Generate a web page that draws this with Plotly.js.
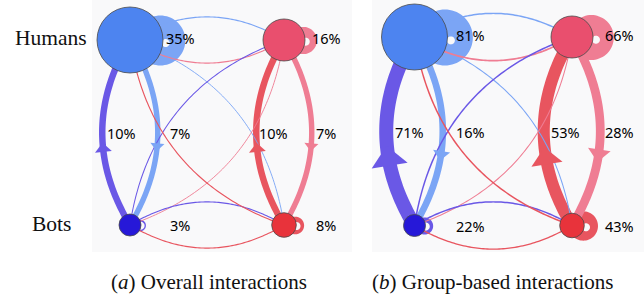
<!DOCTYPE html>
<html><head><meta charset="utf-8">
<script src="https://cdn.plot.ly/plotly-3.0.1.min.js"></script>
<style>html,body{margin:0;padding:0;background:#fff}#chart{width:644px;height:298px}</style>
</head><body><div id="chart"></div>
<script>
// ---------------- data ----------------
const nodeIds = ['HB', 'HR', 'BB', 'BR'];           // Humans-blue, Humans-red, Bots-blue, Bots-red
const rowLabels = ['Humans', 'Bots'];
const panelCaptions = ['(<i>a</i>) Overall interactions', '(<i>b</i>) Group-based interactions'];
const edgeFrom = ['HB', 'HB', 'HB', 'HR', 'HR', 'HR', 'BB', 'BB', 'BB', 'BR', 'BR', 'BR'];
const edgeTo   = ['HR', 'BB', 'BR', 'HB', 'BR', 'BB', 'HB', 'BR', 'HR', 'HR', 'BB', 'HB'];
const overallEdgeValues = [0.3, 7, 0.2, 0.3, 7, 0.2, 10, 0.3, 0.25, 10, 0.3, 0.3];
const groupEdgeValues   = [0.8, 16, 0.4, 1, 28, 0.4, 71, 0.8, 0.8, 53, 0.6, 0.8];
const overallLoopValues = [35, 16, 3, 8];
const groupLoopValues   = [81, 66, 22, 43];
const labeledEdges = ['BB>HB', 'HB>BB', 'BR>HR', 'HR>BR'];

// ---------------- style / layout ----------------
const nodeRadius = {HB: 33, HR: 21, BB: 11, BR: 12.3};
const nodeFill   = {HB: '#4d84f0', HR: '#e94f6e', BB: '#2618d8', BR: '#e8333b'};
const edgeColor  = {HB: '#7ba5f5', HR: '#ef7d93', BB: '#6a58e6', BR: '#e8555f'};
const nodeCell   = {HB: [0, 0], HR: [1, 0], BB: [0, 1], BR: [1, 1]};
// label placement: [labelColumn, labelRow]
const loopLabelCell = {HB: [1, 0], HR: [3, 0], BB: [1, 2], BR: [3, 2]};
const edgeLabelCell = {'BB>HB': [0, 1], 'HB>BB': [1, 1], 'BR>HR': [2, 1], 'HR>BR': [3, 1]};

const panels = [
  {edges: overallEdgeValues, loops: overallLoopValues, cols: [130, 284], rows: [40, 225],
   bg: [92, 352], edgeK: 2.05, loopK: 0.6, loopP: 1.0, tUp: 0.42, tDown: 0.58,
   labelCols: [121, 180, 273, 326], labelRows: [38, 132.5, 225], captionX: 209},
  {edges: groupEdgeValues, loops: groupLoopValues, cols: [414.5, 572], rows: [37, 225.5],
   bg: [372, 644], edgeK: 1.66, loopK: 0.0866, loopP: 1.28, tUp: 0.37, tDown: 0.63,
   labelCols: [409, 470, 565, 619.5], labelRows: [34.5, 132, 226], captionX: 492}
];
const RAD = 0.3;

function bez(p0, c, p1, t) {
  const a = (1 - t) * (1 - t), b = 2 * t * (1 - t), d = t * t;
  return [a * p0[0] + b * c[0] + d * p1[0], a * p0[1] + b * c[1] + d * p1[1]];
}
function bezTan(p0, c, p1, t) {
  const x = 2 * (1 - t) * (c[0] - p0[0]) + 2 * t * (p1[0] - c[0]);
  const y = 2 * (1 - t) * (c[1] - p0[1]) + 2 * t * (p1[1] - c[1]);
  const L = Math.hypot(x, y); return [x / L, y / L];
}
function ctrl(p0, p1) {
  const dx = p1[0] - p0[0], dy = p1[1] - p0[1];
  return [(p0[0] + p1[0]) / 2 + RAD * dy, (p0[1] + p1[1]) / 2 - RAD * dx];
}
function circlePath(cx, cy, r) {
  let s = '';
  for (let i = 0; i < 72; i++) {
    const a = i / 72 * 2 * Math.PI;
    s += (i === 0 ? 'M' : 'L') + (cx + r * Math.cos(a)).toFixed(2) + ',' + (cy + r * Math.sin(a)).toFixed(2);
  }
  return s + 'Z';
}

const thickTraces = [], thinTraces = [], arrowTraces = [], nodeTraces = [];
const annotations = [], bgShapes = [], loopShapes = [];
const pctFont = {family: 'Noto Sans', size: 14.5, color: '#000'};

panels.forEach((P, pi) => {
  const pos = id => [P.cols[nodeCell[id][0]], P.rows[nodeCell[id][1]]];
  bgShapes.push({type: 'rect', xref: 'x', yref: 'y', layer: 'below', x0: P.bg[0], x1: P.bg[1], y0: 0, y1: 252,
                 fillcolor: '#f9f9fa', line: {width: 0}});
  // self loops: a ring just right of the node, thickness from the value
  nodeIds.forEach((id, k) => {
    const v = P.loops[k];
    const w = P.loopK * Math.pow(v, P.loopP);
    const hole = 4;
    const Ro = w + hole;
    const c = pos(id);
    const ox = c[0] + nodeRadius[id] * 0.92, oy = c[1] + 0.5;
    const hx = ox + 0.25 * w, hy = oy + 0.12 * w;
    loopShapes.push({type: 'path', xref: 'x', yref: 'y', layer: 'below',
                     path: circlePath(ox, oy, Ro) + circlePath(hx, hy, hole),
                     fillrule: 'evenodd', fillcolor: edgeColor[id], line: {width: 0}});
    const lc = loopLabelCell[id];
    annotations.push({x: P.labelCols[lc[0]], y: P.labelRows[lc[1]], xref: 'x', yref: 'y', text: v + '%', showarrow: false,
                      xanchor: 'center', yanchor: 'middle', font: pctFont});
  });
  // edges
  edgeFrom.forEach((s, k) => {
    const t = edgeTo[k], v = P.edges[k];
    const p0 = pos(s), p1 = pos(t), c = ctrl(p0, p1);
    const xs = [], ys = [];
    for (let i = 0; i <= 80; i++) { const q = bez(p0, c, p1, i / 80); xs.push(q[0]); ys.push(q[1]); }
    const w = P.edgeK * Math.sqrt(v);
    const key = s + '>' + t;
    const tr = {x: xs, y: ys, mode: 'lines', line: {color: edgeColor[s], width: w, simplify: false}, hoverinfo: 'skip'};
    if (labeledEdges.includes(key)) {
      thickTraces.push(tr);
      const up = p1[1] < p0[1];
      const ta = up ? P.tUp : P.tDown;
      const q = bez(p0, c, p1, ta), T = bezTan(p0, c, p1, ta), N = [-T[1], T[0]];
      const AW = 2.6 * w, AL = 0.55 * AW;
      const tip = [q[0] + T[0] * AL / 2, q[1] + T[1] * AL / 2];
      const b0 = [q[0] - T[0] * AL / 2, q[1] - T[1] * AL / 2];
      const c1 = [b0[0] + N[0] * AW / 2, b0[1] + N[1] * AW / 2];
      const c2 = [b0[0] - N[0] * AW / 2, b0[1] - N[1] * AW / 2];
      arrowTraces.push({x: [tip[0], c1[0], c2[0], tip[0]], y: [tip[1], c1[1], c2[1], tip[1]], mode: 'lines',
                        fill: 'toself', fillcolor: edgeColor[s], line: {width: 0, color: edgeColor[s]}, hoverinfo: 'skip'});
      const lc = edgeLabelCell[key];
      annotations.push({x: P.labelCols[lc[0]], y: P.labelRows[lc[1]], xref: 'x', yref: 'y', text: v + '%', showarrow: false,
                        xanchor: 'center', yanchor: 'middle', font: pctFont});
    } else {
      thinTraces.push(tr);
    }
  });
  // nodes
  nodeTraces.push({x: nodeIds.map(id => pos(id)[0]), y: nodeIds.map(id => pos(id)[1]), mode: 'markers',
    marker: {size: nodeIds.map(id => 2 * nodeRadius[id]), color: nodeIds.map(id => nodeFill[id]),
             line: {color: '#4a4a4a', width: 0.8}, opacity: 1}, hoverinfo: 'skip'});
  annotations.push({x: P.captionX, y: 282, xref: 'x', yref: 'y', text: panelCaptions[pi], showarrow: false,
                    xanchor: 'center', yanchor: 'middle', font: {family: 'Liberation Serif', size: 21, color: '#111'}});
});

annotations.push({x: 50.5, y: 38, xref: 'x', yref: 'y', text: rowLabels[0], showarrow: false, xanchor: 'center', yanchor: 'middle',
                  font: {family: 'Liberation Serif', size: 21.5, color: '#111'}});
annotations.push({x: 51, y: 224, xref: 'x', yref: 'y', text: rowLabels[1], showarrow: false, xanchor: 'center', yanchor: 'middle',
                  font: {family: 'Liberation Serif', size: 21.5, color: '#111'}});

const data = [].concat(thickTraces, thinTraces, arrowTraces, nodeTraces);
const layout = {
  width: 644, height: 298, margin: {l: 0, r: 0, t: 0, b: 0},
  paper_bgcolor: '#ffffff', plot_bgcolor: '#ffffff', showlegend: false,
  xaxis: {range: [0, 644], visible: false, fixedrange: true},
  yaxis: {range: [298, 0], visible: false, fixedrange: true},
  shapes: bgShapes.concat(loopShapes), annotations: annotations
};
Plotly.newPlot('chart', data, layout, {displayModeBar: false, staticPlot: true});
</script></body></html>
